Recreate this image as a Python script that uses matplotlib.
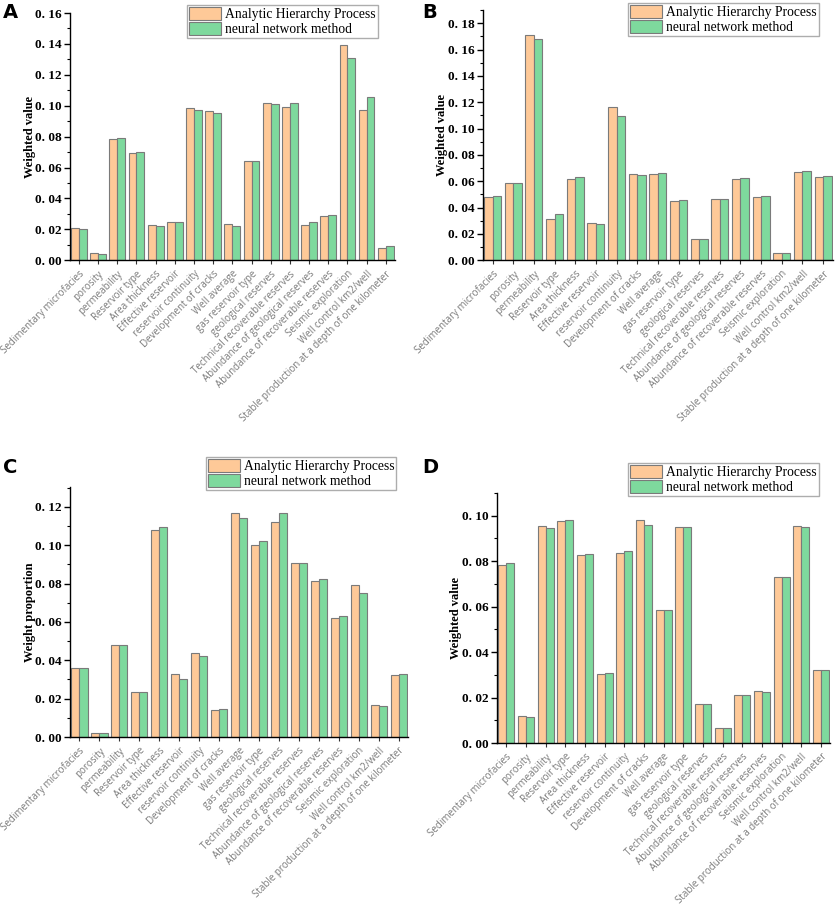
import matplotlib
matplotlib.use("Agg")
import matplotlib.pyplot as plt
import numpy as np
from matplotlib.patches import Patch
from matplotlib.ticker import MultipleLocator, FuncFormatter

categories = [
    "Sedimentary microfacies", "porosity", "permeability", "Reservoir type",
    "Area thickness", "Effective reservoir", "reservoir continuity",
    "Development of cracks", "Well average", "gas reservoir type",
    "geological reserves", "Technical recoverable reserves",
    "Abundance of geological reserves", "Abundance of recoverable reserves",
    "Seismic exploration", "Well control km2/well",
    "Stable production at a depth of one kilometer",
]
series_names = ["Analytic Hierarchy Process", "neural network method"]

ahp_A = [0.021, 0.0048, 0.0785, 0.0695, 0.0225, 0.025, 0.0985, 0.0965, 0.0235, 0.064,
         0.1015, 0.0995, 0.0225, 0.0285, 0.139, 0.0975, 0.008]
nn_A = [0.020, 0.0042, 0.079, 0.070, 0.022, 0.0245, 0.0975, 0.0955, 0.022, 0.064,
        0.101, 0.102, 0.0245, 0.029, 0.131, 0.1055, 0.009]

ahp_B = [0.048, 0.059, 0.171, 0.031, 0.0615, 0.028, 0.116, 0.0655, 0.0655, 0.045,
         0.016, 0.0465, 0.062, 0.048, 0.0055, 0.067, 0.0635]
nn_B = [0.049, 0.0585, 0.168, 0.035, 0.063, 0.0275, 0.1095, 0.065, 0.066, 0.046,
        0.016, 0.0465, 0.0625, 0.049, 0.0055, 0.068, 0.064]

ahp_C = [0.036, 0.002, 0.048, 0.0235, 0.108, 0.033, 0.044, 0.014, 0.117, 0.100,
         0.112, 0.091, 0.0815, 0.062, 0.0795, 0.0168, 0.0325]
nn_C = [0.036, 0.0022, 0.048, 0.0235, 0.1095, 0.030, 0.042, 0.0145, 0.114, 0.102,
        0.117, 0.091, 0.0825, 0.063, 0.0752, 0.0162, 0.0328]

ahp_D = [0.0785, 0.0118, 0.0953, 0.0975, 0.0828, 0.0303, 0.0835, 0.098, 0.0585, 0.095,
         0.0173, 0.0068, 0.021, 0.023, 0.073, 0.0955, 0.0323]
nn_D = [0.079, 0.0115, 0.0947, 0.098, 0.083, 0.0308, 0.0843, 0.096, 0.0587, 0.0952,
        0.0171, 0.0068, 0.021, 0.0225, 0.073, 0.095, 0.032]

panels = [
    dict(letter="A", ahp=ahp_A, nn=nn_A, ylabel="Weighted value", ymax=0.16, ytop=0.16,
         rect=[0.0836, 0.714, 0.388, 0.2717], leg=(0.3375, 0.9945), lpos=(0.003, 0.997), ylx=0.036),
    dict(letter="B", ahp=ahp_B, nn=nn_B, ylabel="Weighted value", ymax=0.19, ytop=0.18,
         rect=[0.577, 0.714, 0.418, 0.275], leg=(0.8644, 0.9967), lpos=(0.505, 0.997), ylx=0.528),
    dict(letter="C", ahp=ahp_C, nn=nn_C, ylabel="Weight proportion", ymax=0.1304, ytop=0.12,
         rect=[0.0836, 0.1901, 0.404, 0.2747], leg=(0.360, 0.4978), lpos=(0.003, 0.497), ylx=0.036),
    dict(letter="D", ahp=ahp_D, nn=nn_D, ylabel="Weighted value", ymax=0.110, ytop=0.10,
         rect=[0.594, 0.1835, 0.398, 0.2747], leg=(0.8644, 0.491), lpos=(0.505, 0.497), ylx=0.545),
]

c_ahp = "#FEC998"
c_nn = "#7ED99D"
edge = "#7a7a7a"

fig = plt.figure(figsize=(8.37, 9.10), dpi=100)
x = np.arange(len(categories))
w = 0.41

def fmt(v, pos):
    return "0. %02d" % round(v * 100)

for p in panels:
    ax = fig.add_axes(p["rect"])
    ax.bar(x - w / 2, p["ahp"], width=w, color=c_ahp, edgecolor=edge, linewidth=0.8)
    ax.bar(x + w / 2, p["nn"], width=w, color=c_nn, edgecolor=edge, linewidth=0.8)
    ax.set_xlim(-0.47, len(categories) - 0.53)
    ax.set_ylim(0, p["ymax"])
    ax.spines["top"].set_visible(False)
    ax.spines["right"].set_visible(False)
    ax.spines["left"].set_linewidth(1.0)
    ax.spines["bottom"].set_linewidth(1.0)
    ax.yaxis.set_minor_locator(MultipleLocator(0.01))
    ax.yaxis.set_major_formatter(FuncFormatter(fmt))
    ax.set_yticks([t for t in np.arange(0, p["ytop"] + 0.001, 0.02)])
    ax.tick_params(axis="y", which="major", length=4, width=1, direction="out", pad=2)
    ax.tick_params(axis="y", which="minor", length=2, width=0.8, direction="out")
    for t in ax.get_yticklabels():
        t.set_fontfamily("Liberation Serif")
        t.set_fontweight("bold")
        t.set_fontsize(9.5)
    ax.set_xticks(x)
    ax.set_xticklabels(categories, rotation=45, ha="right", rotation_mode="anchor",
                       fontsize=7, color="#7a7a7a", fontfamily="Open Sans")
    ax.tick_params(axis="x", length=3, width=0.8, direction="out", pad=3, color="#333333")
    fig.text(p["ylx"], p["rect"][1] + p["rect"][3] / 2, p["ylabel"], rotation=90,
             ha="center", va="center", fontfamily="Liberation Serif", fontweight="bold",
             fontsize=9)
    fig.text(p["lpos"][0], p["lpos"][1], p["letter"], ha="left", va="top",
             fontfamily="DejaVu Sans", fontweight="bold", fontsize=14)
    handles = [Patch(facecolor=c_ahp, edgecolor=edge, linewidth=0.8),
               Patch(facecolor=c_nn, edgecolor=edge, linewidth=0.8)]
    leg = fig.legend(handles, series_names, loc="upper center", bbox_to_anchor=p["leg"],
                     bbox_transform=fig.transFigure, frameon=True, fancybox=False,
                     borderaxespad=0, borderpad=0.15, labelspacing=0.05,
                     handlelength=2.3, handleheight=1.1, handletextpad=0.3,
                     prop=dict(family="Liberation Serif", size=9.8))
    leg.get_frame().set_edgecolor("#999999")
    leg.get_frame().set_linewidth(1.0)

fig.savefig("out.png", dpi=100)
